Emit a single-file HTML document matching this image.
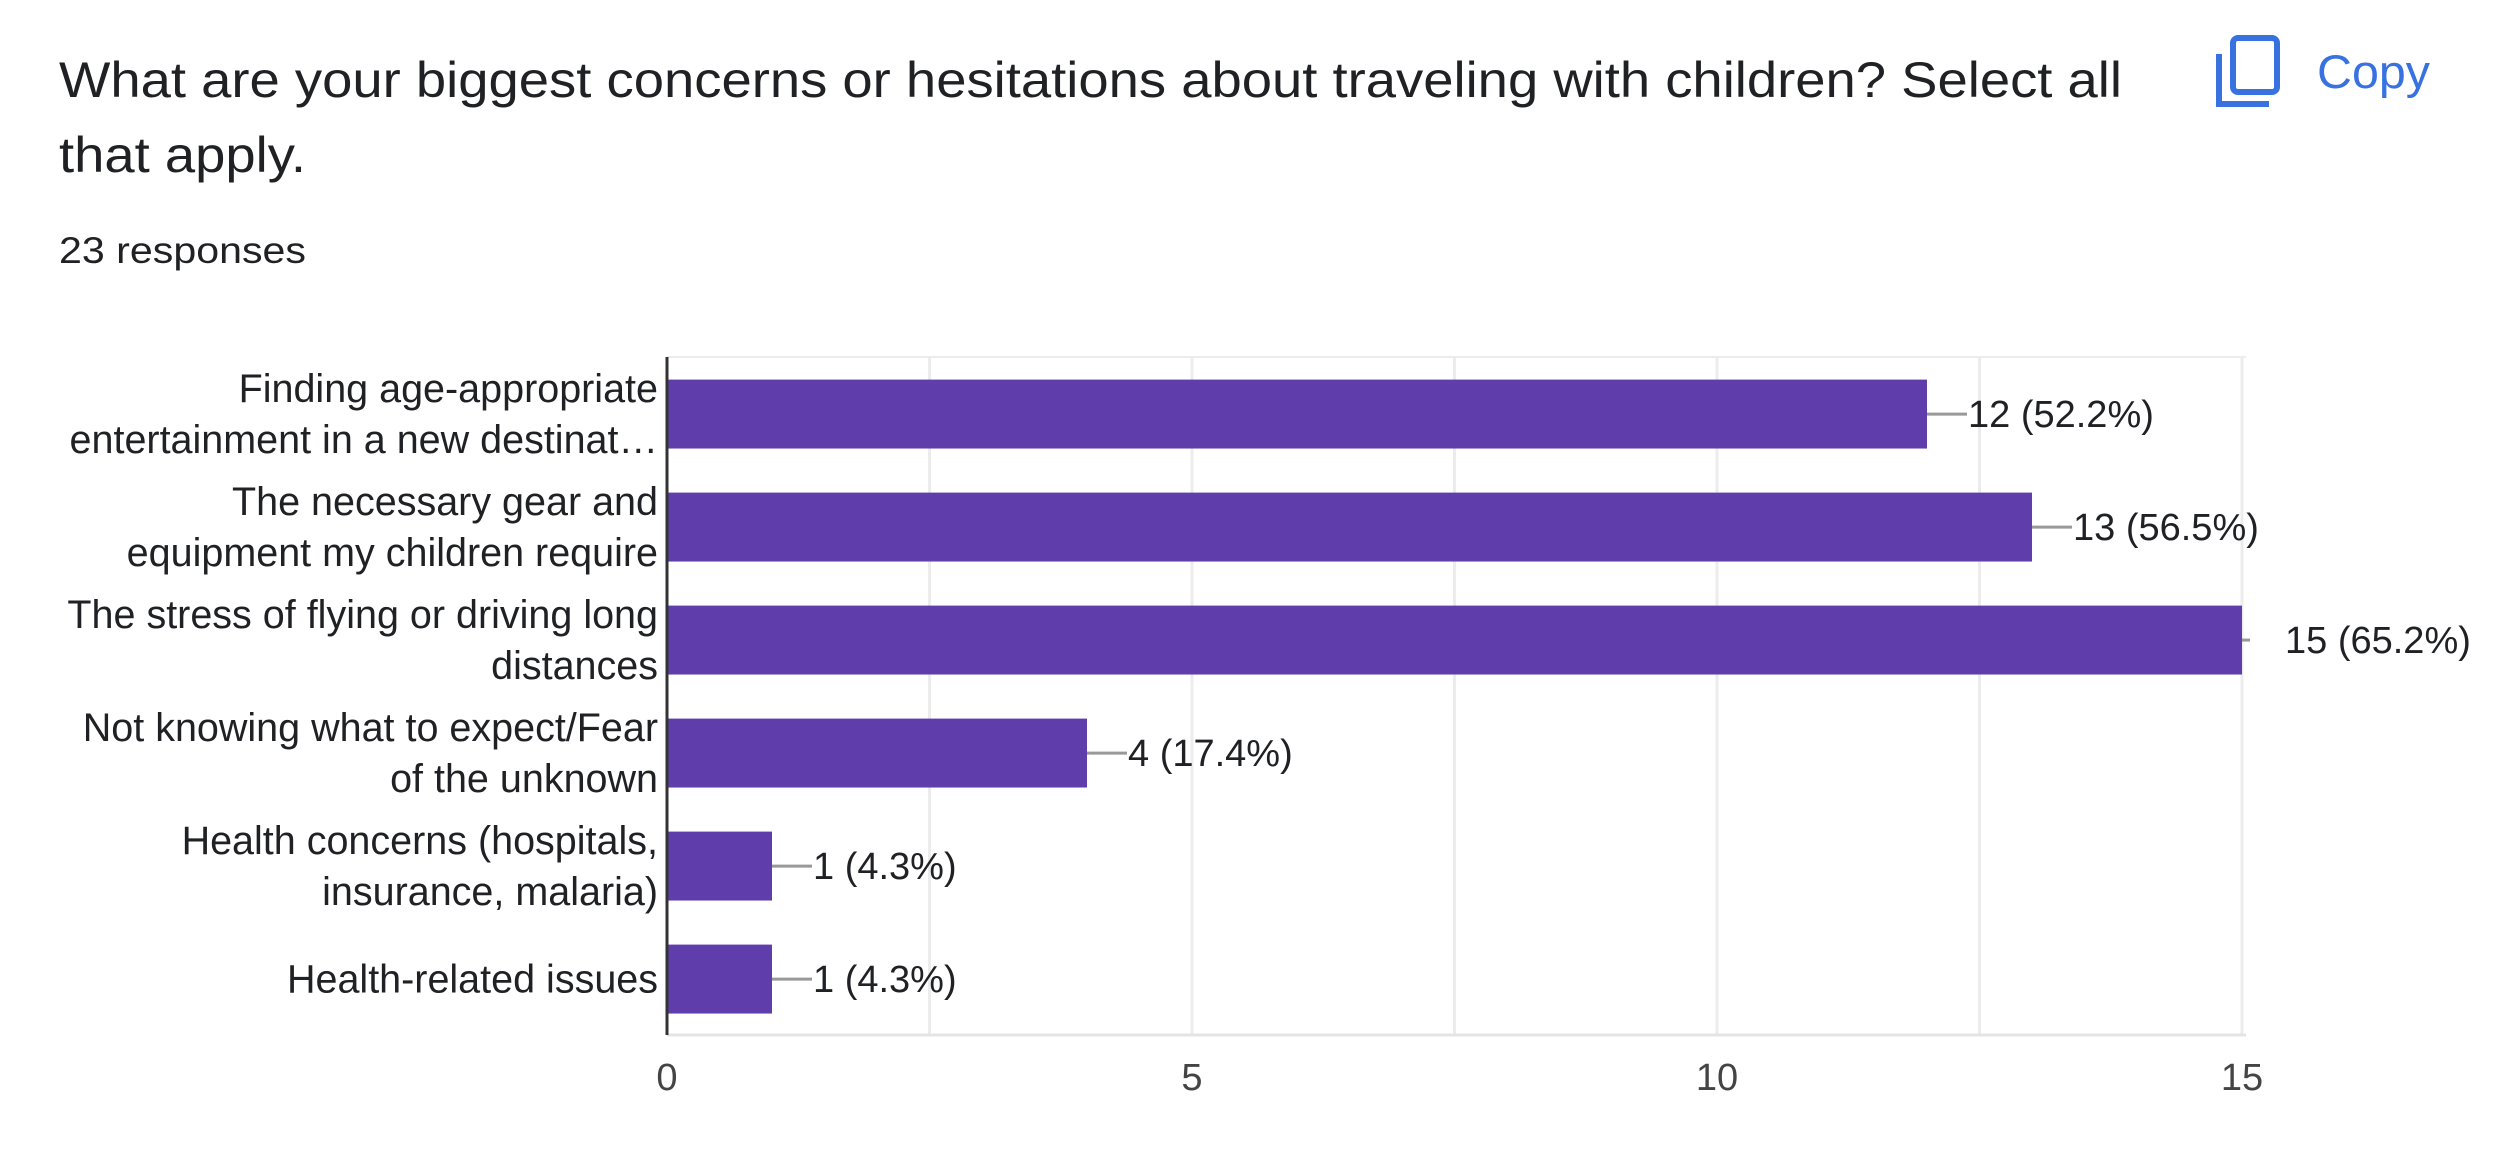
<!DOCTYPE html>
<html><head><meta charset="utf-8"><style>
html,body{margin:0;padding:0;background:#fff;}
svg{display:block;font-family:"Liberation Sans",Arial,sans-serif;}
</style></head><body>
<svg id="chart" width="2500" height="1163" viewBox="0 0 2500 1163" xmlns="http://www.w3.org/2000/svg">
  <text x="59" y="97" font-size="50" fill="#202124" textLength="2063" lengthAdjust="spacingAndGlyphs">What are your biggest concerns or hesitations about traveling with children? Select all</text>
  <text x="59" y="172" font-size="50" fill="#202124" textLength="247" lengthAdjust="spacingAndGlyphs">that apply.</text>
  <text x="59" y="263" font-size="37" fill="#202124" textLength="247" lengthAdjust="spacingAndGlyphs">23 responses</text>
  <g style="cursor:pointer">
    <rect x="2233" y="38" width="44" height="54" rx="5" fill="none" stroke="#3871e0" stroke-width="6"/>
    <path d="M2219 54 V104 H2269" fill="none" stroke="#3871e0" stroke-width="6"/>
    <text x="2317" y="88" font-size="47" fill="#3871e0" textLength="113" lengthAdjust="spacingAndGlyphs">Copy</text>
  </g>
  <g id="grid"></g>
  <g id="bars"></g>
  <g id="labels"></g>
</svg>
<script>
const categories = [
  ["Finding age-appropriate", "entertainment in a new destinat\u2026"],
  ["The necessary gear and", "equipment my children require"],
  ["The stress of flying or driving long", "distances"],
  ["Not knowing what to expect/Fear", "of the unknown"],
  ["Health concerns (hospitals,", "insurance, malaria)"],
  ["Health-related issues"]
];
const counts = [12, 13, 15, 4, 1, 1];
const percentLabels = ["52.2%", "56.5%", "65.2%", "17.4%", "4.3%", "4.3%"];
const gridValues = [0, 2.5, 5, 7.5, 10, 12.5, 15];
const tickLabels = [0, 5, 10, 15];

const X0 = 667, X1 = 2242, XMAX = 15, TOP = 357, BAND = 113;
const NS = "http://www.w3.org/2000/svg";
const xScale = v => X0 + (v / XMAX) * (X1 - X0);
const yBand = i => TOP + i * BAND;
const bottom = yBand(categories.length);
function mk(tag, attrs, parent) {
  const e = document.createElementNS(NS, tag);
  for (const k in attrs) e.setAttribute(k, attrs[k]);
  parent.appendChild(e);
  return e;
}
const grid = document.getElementById('grid');
const bars = document.getElementById('bars');
const labels = document.getElementById('labels');

mk('line', {x1: X0, y1: TOP, x2: X1 + 4, y2: TOP, stroke: '#ececec', 'stroke-width': 2}, grid);
gridValues.forEach(v => {
  if (v === 0) return;
  const l = mk('line', {x1: xScale(v), y1: TOP, x2: xScale(v), y2: bottom, stroke: '#ececec', 'stroke-width': 3}, grid);
  
  
});
const xb = mk('line', {x1: X0, y1: bottom, x2: X1 + 4, y2: bottom, stroke: '#e4e4e4', 'stroke-width': 3}, grid);



tickLabels.forEach(v => {
  const t = mk('text', {x: xScale(v), y: 1090, 'font-size': 38, fill: '#444', 'text-anchor': 'middle'}, labels);
  t.textContent = v;
  
  
});

counts.forEach((c, i) => {
  const top = yBand(i) + BAND * 0.2, h = BAND * 0.61, mid = top + h / 2;
  const r = mk('rect', {x: X0, y: top, width: xScale(c) - X0, height: h, fill: '#5f3dab'}, bars);
  
  
  const end = xScale(c);
  const isMax = c === XMAX;
  const ld = mk('line', {x1: end, y1: mid, x2: isMax ? end + 8 : end + 40, y2: mid, stroke: '#999', 'stroke-width': 3}, bars);
  
  
  const vt = mk('text', {x: isMax ? end + 43 : end + 41, y: mid + 13, 'font-size': 38, fill: '#202124'}, labels);
  vt.textContent = c + " (" + percentLabels[i] + ")";
  
  
  const lines = categories[i];
  const bandMid = yBand(i) + BAND / 2;
  lines.forEach((s, j) => {
    const y = bandMid + (j - (lines.length - 1) / 2) * 51 + 14;
    const t = mk('text', {x: 658, y: y, 'font-size': 39.5, fill: '#202124', 'text-anchor': 'end'}, labels);
    t.textContent = s;
    
    
  });
});
const ya = mk('line', {x1: X0, y1: TOP, x2: X0, y2: bottom, stroke: '#333', 'stroke-width': 3}, bars);


</script>
</body></html>
